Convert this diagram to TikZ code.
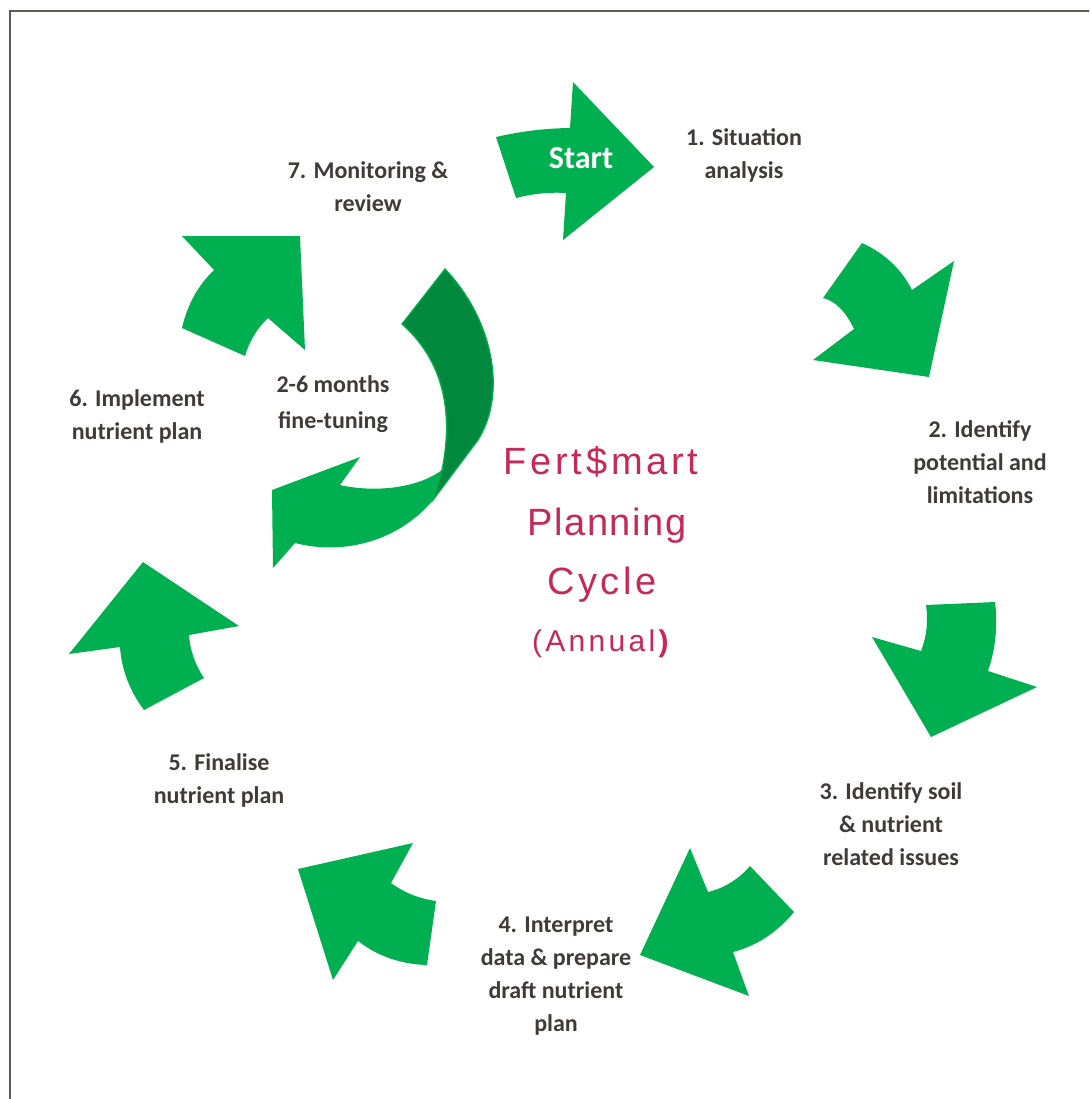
\documentclass[tikz,border=0pt]{standalone}
\usepackage{fontspec}
\setmainfont{Carlito}
\newfontfamily\titlefont{Liberation Sans}
\definecolor{lgreen}{RGB}{0,176,80}
\definecolor{dgreen}{RGB}{0,137,60}
\definecolor{labelc}{RGB}{64,58,56}
\definecolor{titlec}{RGB}{198,40,88}
\definecolor{framec}{RGB}{95,88,85}
\begin{document}
\begin{tikzpicture}[x=0.5pt,y=-0.5pt,
  arrowshape/.style={fill=lgreen},
  lbl/.style={text=labelc, font=\bfseries\fontsize{12}{16.5}\selectfont, align=center, inner sep=0pt},
  ttl/.style={text=titlec, font=\titlefont\fontsize{19}{22}\selectfont, anchor=base, inner sep=0pt}]
\clip (0,0) rectangle (1089,1099);
\fill[white] (0,0) rectangle (1089,1099);
\draw[framec, line width=1.4pt] (10,11) rectangle (1110,1120);

% Start arrow
\fill[arrowshape] (496,137) .. controls (520.7,131.3) and (545.3,128.3) .. (570,128) -- (573,82) -- (654,167) -- (563,240) -- (566,193) .. controls (549.3,192) and (532.7,193.7) .. (516,198) -- cycle;
% arrow 2
\fill[arrowshape] (862,243) .. controls (884.7,253.3) and (901.3,269) .. (912,290) -- (954,261) -- (929,377) -- (813,360) -- (854,329) .. controls (845.7,311.3) and (835.3,301) .. (823,298) -- cycle;
% arrow 3
\fill[arrowshape] (926,605) -- (995,602) .. controls (997.9,625.9) and (995.6,648.9) .. (988,671) -- (1037,687) -- (931,737) -- (872,637) -- (921,651) .. controls (926.7,636.3) and (928.3,621) .. (926,605) -- cycle;
% arrow 4
\fill[arrowshape] (690,848) -- (708,892) .. controls (724.5,888) and (738.5,879.3) .. (750,866) -- (794,912) .. controls (777.3,932.3) and (757,945.7) .. (733,952) -- (749,996) -- (640,955) -- cycle;
% arrow 5
\fill[arrowshape] (413,843) -- (391,883) .. controls (404.3,892.7) and (419.3,898.7) .. (436,901) -- (427,965) .. controls (400.9,964.3) and (377.9,956.3) .. (358,941) -- (333,980) -- (298,869) -- cycle;
% arrow 6
\fill[arrowshape] (143,562) -- (239,626) -- (189,635) .. controls (190.1,650.3) and (195.1,664.7) .. (204,678) -- (144,710) .. controls (129.6,690.8) and (121.6,669.8) .. (120,647) -- (69,654) -- cycle;
% arrow 7
\fill[arrowshape] (300,236) -- (305,350) -- (268,318) .. controls (257.1,328.3) and (249.5,340.9) .. (245,356) -- (182,328) .. controls (187.3,304.8) and (197.9,285.5) .. (214,270) -- (182,236) -- cycle;

% fine-tuning loop arrow
\fill[arrowshape] (360,457) -- (272,490) -- (273,568) -- (295,543) .. controls (345,556) and (400,540) .. (433,500) -- (478,440) -- (442,470) .. controls (415,490) and (370,492) .. (340,485) -- cycle;
\filldraw[fill=dgreen, draw=lgreen, line width=0.6pt] (445,269) .. controls (492,318) and (508,392) .. (478,440) -- (433,500) -- (442,470) .. controls (452,420) and (448,365) .. (402,324) -- cycle;

% labels
\node[text=white, font=\bfseries\fontsize{16}{19}\selectfont, inner sep=0pt] (start) at (581,158) {Start};
\node[lbl] (l1) at (744,155) {1. Situation\\analysis};
\node[lbl] (l2) at (980,462) {2. Identify\\potential and\\limitations};
\node[lbl] (l3) at (891,824) {3. Identify soil\\\& nutrient\\related issues};
\node[lbl] (l4) at (556,976) {4. Interpret\\data \& prepare\\draft nutrient\\plan};
\node[lbl] (l5) at (219,780) {5. Finalise\\nutrient plan};
\node[lbl] (l6) at (137,416) {6. Implement\\nutrient plan};
\node[lbl] (l7) at (368,187) {7. Monitoring \&\\review};
\node[lbl, font=\bfseries\fontsize{12}{18}\selectfont] (ft) at (333,404) {2-6 months\\fine-tuning};

% title
\node[ttl] (t1) at (601,474) {\addfontfeature{LetterSpace=10}Fert\$mart};
\node[ttl] (t2) at (607,535) {\addfontfeature{LetterSpace=4}Planning};
\node[ttl] (t3) at (602,594) {\addfontfeature{LetterSpace=9}Cycle};
\node[ttl, font=\titlefont\fontsize{15}{18}\selectfont] (t4) at (602,651) {\addfontfeature{LetterSpace=11}(Annual\textbf{)}};
\end{tikzpicture}
\end{document}
